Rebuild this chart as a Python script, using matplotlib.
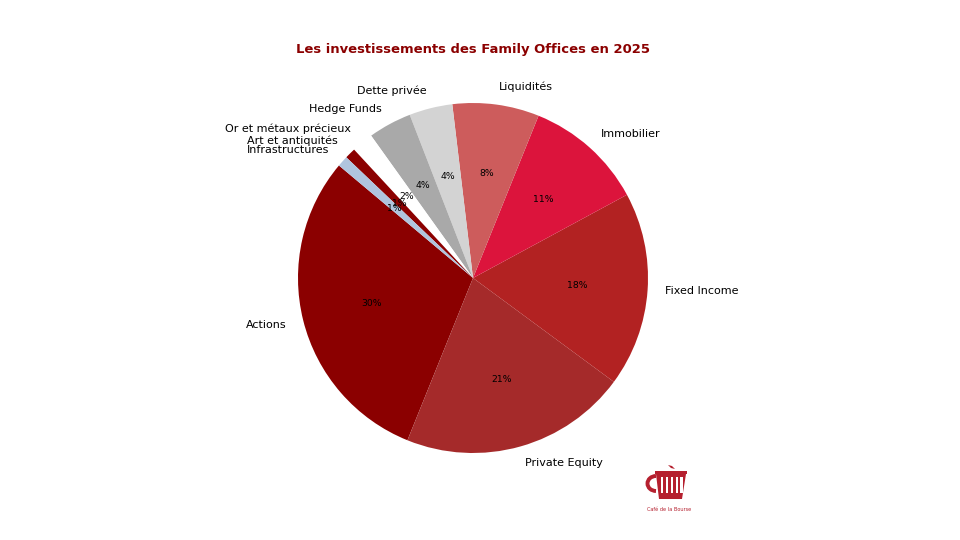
import matplotlib
matplotlib.use("Agg")
import matplotlib.pyplot as plt
from matplotlib.patches import Rectangle, Polygon, Arc

labels = ["Actions", "Private Equity", "Fixed Income", "Immobilier", "Liquidités",
          "Dette privée", "Hedge Funds", "Or et métaux précieux",
          "Art et antiquités", "Infrastructures"]
values = [30, 21, 18, 11, 8, 4, 4, 2, 1, 1]
colors = ["#8B0000", "#A52A2A", "#B22222", "#DC143C", "#CD5C5C",
          "#D3D3D3", "#A9A9A9", "#FFFFFF", "#8B0000", "#B0C4DE"]
title = "Les investissements des Family Offices en 2025"
brand = "Café de la Bourse"
RED = "#B5202F"

W, H = 960, 540
fig = plt.figure(figsize=(9.6, 5.4), dpi=100)

# pie radius is 175 px around (473, 278)
half = 175 * 1.25
ax = fig.add_axes([(473 - half) / W, (H - 278 - half) / H, 2 * half / W, 2 * half / H])
wedges, texts, autotexts = ax.pie(values, labels=labels, colors=colors, autopct="%1.0f%%",
                                  startangle=140, labeldistance=1.1, pctdistance=0.6,
                                  textprops={"fontsize": 8.05})
for t in autotexts:
    t.set_fontsize(6.7)
ax.set_aspect("equal")

fig.text(473 / W, (H - 49) / H, title, ha="center", va="center",
         fontsize=9.45, fontweight="bold", color="#8B0000")

# logo, drawn in pixel coordinates
logo = fig.add_axes([0, 0, 1, 1], facecolor="none")
logo.set_xlim(0, W)
logo.set_ylim(H, 0)
logo.axis("off")
logo.add_patch(Polygon([(656, 474), (686, 474), (682, 499), (659, 499)], closed=True, fc=RED, ec="none"))
for x in [660.5, 665.5, 670.5, 675.5, 680]:
    logo.add_patch(Rectangle((x, 477), 2.6, 16, fc="white", ec="none"))
logo.add_patch(Rectangle((655, 471), 32, 2.6, fc=RED, ec="none"))
logo.add_patch(Polygon([(668, 465), (672, 466), (675, 469), (671, 468)], closed=True, fc=RED, ec="none"))
logo.add_patch(Arc((656, 483.5), 17, 15, theta1=90, theta2=270, ec=RED, lw=2.8))
logo.text(669, 509.5, brand, ha="center", va="center", fontsize=3.6, color=RED)

fig.savefig("out.png", dpi=100)
